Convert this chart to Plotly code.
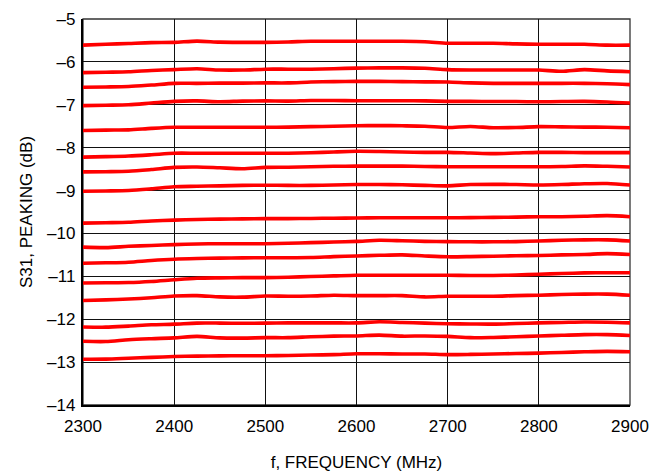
import plotly.graph_objects as go

# Frequency sweep points (MHz)
freq_mhz = [2300, 2325, 2350, 2375, 2400, 2425, 2450, 2475, 2500, 2525, 2550, 2575, 2600,
            2625, 2650, 2675, 2700, 2725, 2750, 2775, 2800, 2825, 2850, 2875, 2900]

# S31 peaking response (dB) for each gain setting, top to bottom
s31_state_01 = [-5.61, -5.59, -5.57, -5.55, -5.545, -5.515, -5.54, -5.545, -5.545, -5.535, -5.52, -5.52, -5.52,
                -5.52, -5.52, -5.53, -5.565, -5.565, -5.565, -5.58, -5.59, -5.59, -5.59, -5.61, -5.61]
s31_state_02 = [-6.25, -6.24, -6.23, -6.20, -6.18, -6.16, -6.19, -6.19, -6.17, -6.17, -6.17, -6.16, -6.145,
                -6.14, -6.14, -6.15, -6.18, -6.19, -6.19, -6.19, -6.19, -6.22, -6.18, -6.21, -6.23]
s31_state_03 = [-6.59, -6.585, -6.575, -6.54, -6.50, -6.50, -6.495, -6.495, -6.49, -6.49, -6.47, -6.46, -6.455,
                -6.455, -6.46, -6.465, -6.47, -6.49, -6.50, -6.50, -6.50, -6.50, -6.50, -6.51, -6.53]
s31_state_04 = [-7.02, -7.01, -7.00, -6.96, -6.92, -6.91, -6.93, -6.915, -6.91, -6.915, -6.90, -6.90, -6.905,
                -6.905, -6.905, -6.91, -6.92, -6.92, -6.925, -6.925, -6.93, -6.925, -6.92, -6.935, -6.96]
s31_state_05 = [-7.60, -7.59, -7.585, -7.55, -7.525, -7.525, -7.525, -7.525, -7.525, -7.52, -7.51, -7.50, -7.49,
                -7.485, -7.49, -7.50, -7.53, -7.505, -7.535, -7.53, -7.51, -7.515, -7.52, -7.525, -7.535]
s31_state_06 = [-8.22, -8.21, -8.195, -8.165, -8.13, -8.13, -8.13, -8.13, -8.13, -8.13, -8.12, -8.10, -8.085,
                -8.09, -8.10, -8.11, -8.11, -8.125, -8.14, -8.125, -8.11, -8.11, -8.115, -8.115, -8.115]
s31_state_07 = [-8.565, -8.56, -8.55, -8.51, -8.46, -8.45, -8.47, -8.49, -8.46, -8.455, -8.445, -8.435, -8.43,
                -8.43, -8.43, -8.44, -8.445, -8.445, -8.445, -8.445, -8.445, -8.44, -8.425, -8.435, -8.45]
s31_state_08 = [-9.015, -9.01, -9.00, -8.96, -8.91, -8.90, -8.89, -8.88, -8.875, -8.88, -8.88, -8.87, -8.86,
                -8.86, -8.865, -8.88, -8.89, -8.86, -8.855, -8.86, -8.87, -8.86, -8.84, -8.835, -8.87]
s31_state_09 = [-9.76, -9.75, -9.74, -9.71, -9.69, -9.675, -9.665, -9.66, -9.655, -9.655, -9.65, -9.645, -9.64,
                -9.635, -9.635, -9.635, -9.635, -9.63, -9.625, -9.62, -9.61, -9.61, -9.60, -9.585, -9.61]
s31_state_10 = [-10.32, -10.33, -10.30, -10.28, -10.26, -10.245, -10.24, -10.24, -10.24, -10.23, -10.215, -10.20, -10.185,
                -10.16, -10.17, -10.185, -10.19, -10.195, -10.195, -10.19, -10.175, -10.16, -10.15, -10.15, -10.175]
s31_state_11 = [-10.695, -10.685, -10.67, -10.63, -10.60, -10.585, -10.575, -10.57, -10.565, -10.565, -10.56, -10.54, -10.525,
                -10.51, -10.50, -10.525, -10.545, -10.54, -10.53, -10.52, -10.515, -10.50, -10.49, -10.47, -10.49]
s31_state_12 = [-11.155, -11.15, -11.145, -11.12, -11.08, -11.045, -11.035, -11.03, -11.03, -11.02, -11.005, -10.99, -10.975,
                -10.975, -10.975, -10.975, -10.975, -10.98, -10.98, -10.97, -10.95, -10.935, -10.92, -10.915, -10.915]
s31_state_13 = [-11.565, -11.55, -11.53, -11.50, -11.46, -11.45, -11.48, -11.485, -11.46, -11.465, -11.46, -11.44, -11.45,
                -11.45, -11.45, -11.48, -11.465, -11.465, -11.465, -11.45, -11.44, -11.425, -11.415, -11.415, -11.44]
s31_state_14 = [-12.18, -12.185, -12.16, -12.13, -12.115, -12.09, -12.09, -12.095, -12.09, -12.085, -12.085, -12.085, -12.085,
                -12.06, -12.075, -12.09, -12.105, -12.11, -12.115, -12.10, -12.085, -12.075, -12.065, -12.07, -12.085]
s31_state_15 = [-12.515, -12.52, -12.48, -12.455, -12.435, -12.40, -12.435, -12.44, -12.43, -12.43, -12.41, -12.395, -12.39,
                -12.37, -12.395, -12.39, -12.40, -12.43, -12.425, -12.41, -12.39, -12.375, -12.36, -12.36, -12.38]
s31_state_16 = [-12.935, -12.93, -12.91, -12.89, -12.87, -12.86, -12.855, -12.85, -12.85, -12.845, -12.835, -12.825, -12.805,
                -12.805, -12.81, -12.81, -12.825, -12.82, -12.81, -12.80, -12.79, -12.775, -12.76, -12.75, -12.76]

all_states = [s31_state_01, s31_state_02, s31_state_03, s31_state_04, s31_state_05, s31_state_06,
              s31_state_07, s31_state_08, s31_state_09, s31_state_10, s31_state_11, s31_state_12,
              s31_state_13, s31_state_14, s31_state_15, s31_state_16]

x_ticks = [2300, 2400, 2500, 2600, 2700, 2800, 2900]
y_ticks = [-14, -13, -12, -11, -10, -9, -8, -7, -6, -5]

FONT = "Liberation Sans, Arial, Helvetica, sans-serif"

fig = go.Figure()
for values in all_states:
    fig.add_trace(go.Scatter(
        x=freq_mhz, y=values, mode="lines",
        line=dict(color="#ff0000", width=3.6, shape="spline", smoothing=0.8),
        showlegend=False, hoverinfo="skip",
    ))

# thin frame on the top and right edges of the plotting area
fig.add_shape(type="rect", xref="x domain", yref="y domain", x0=0, x1=1, y0=0, y1=1,
              line=dict(color="#333333", width=1.3), layer="below")

fig.update_layout(
    width=651, height=473,
    margin=dict(l=83, r=21, t=19, b=68),
    paper_bgcolor="white", plot_bgcolor="white",
    font=dict(family=FONT, size=17, color="black"),
)
fig.update_xaxes(
    range=[2300, 2900], tickvals=x_ticks, ticktext=[str(v) for v in x_ticks],
    showgrid=True, gridcolor="#111111", gridwidth=1.1,
    showline=True, linecolor="black", linewidth=2.4,
    ticks="", zeroline=False, automargin=False, ticklabelstandoff=4,
    title=dict(text="f, FREQUENCY (MHz)", font=dict(size=17), standoff=22),
)
fig.update_yaxes(
    range=[-14, -5], tickvals=y_ticks, ticktext=["\u2013" + str(-v) for v in y_ticks],
    showgrid=True, gridcolor="#111111", gridwidth=1.1,
    showline=True, linecolor="black", linewidth=2.4,
    ticks="", zeroline=False, automargin=False, ticklabelstandoff=2,
    title=dict(text="S31, PEAKING (dB)", font=dict(size=17), standoff=10),
)

fig.write_html("out.html")
